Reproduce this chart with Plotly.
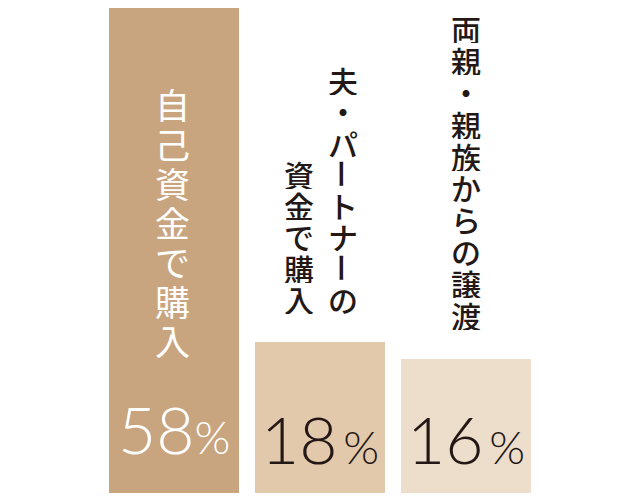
import plotly.graph_objects as go

# data
categories = ["自己資金で購入", "夫・パートナーの資金で購入", "両親・親族からの譲渡"]
values = [58, 18, 16]
# vertical label columns (read right to left)
label_columns = [["自己資金で購入"], ["夫・パートナーの", "資金で購入"], ["両親・親族からの譲渡"]]
pct_labels = ["58", "18", "16"]

bar_colors = ["#C9A57F", "#E2C9AC", "#ECDECA"]
text_colors = ["#FFFFFF", "#231815", "#231815"]

W, H = 640, 500
PAGE_OFF = 8          # the page body has an 8px margin
M_T, M_B = 0, 15
plot_h = H - M_T - M_B


def py_to_paper(py):
    # py is a position in the screenshot, convert to paper coords
    return (H - M_B - (py - PAGE_OFF)) / plot_h


fig = go.Figure()
fig.add_trace(go.Bar(
    x=list(range(len(categories))), y=values,
    marker=dict(color=bar_colors, line=dict(width=0)),
    width=0.89, hoverinfo="skip",
))

# vertical text: one annotation per character
col_layout = [
    # (xshift per column, bottom char centre px, pitch, size, weight)
    ([-2], 339, 39.3, 35, 400),
    ([23, -21], 299, 31.3, 30, 500),
    ([0], 315, 31.9, 30, 500),
]
for i, cols in enumerate(label_columns):
    xshifts, bottom, pitch, size, wt = col_layout[i]
    for col, xs in zip(cols, xshifts):
        n = len(col)
        for k, ch in enumerate(col):
            py = bottom - (n - 1 - k) * pitch
            fig.add_annotation(
                x=i, xref="x", xshift=xs, y=py_to_paper(py), yref="paper",
                text=ch, showarrow=False, xanchor="center", yanchor="middle",
                textangle=90 if ch == "ー" else 0,
                height=int(pitch) - 1, borderpad=0,
                font=dict(family="Noto Sans CJK JP", size=size,
                          color=text_colors[i], weight=wt),
            )

# percentage labels
pct_mid = [428, 438, 438]
for i, p in enumerate(pct_labels):
    sep = "\u2009" if i else ""
    fig.add_annotation(
        x=i, xref="x", y=py_to_paper(pct_mid[i]), yref="paper",
        text=p + '<span style="font-size:46px">' + sep + '%</span>',
        showarrow=False, xanchor="center", yanchor="middle",
        font=dict(family="Lato, Noto Sans", size=66, color=text_colors[i], weight=300),
    )

fig.update_layout(
    width=W, height=H,
    margin=dict(l=101 - PAGE_OFF, r=101 + PAGE_OFF, t=M_T, b=M_B),
    plot_bgcolor="white", paper_bgcolor="white",
    showlegend=False, bargap=0,
    xaxis=dict(visible=False, range=[-0.5, 2.5]),
    yaxis=dict(visible=False, range=[0, 58 * plot_h / 486]),
)
fig.write_html("out.html")
